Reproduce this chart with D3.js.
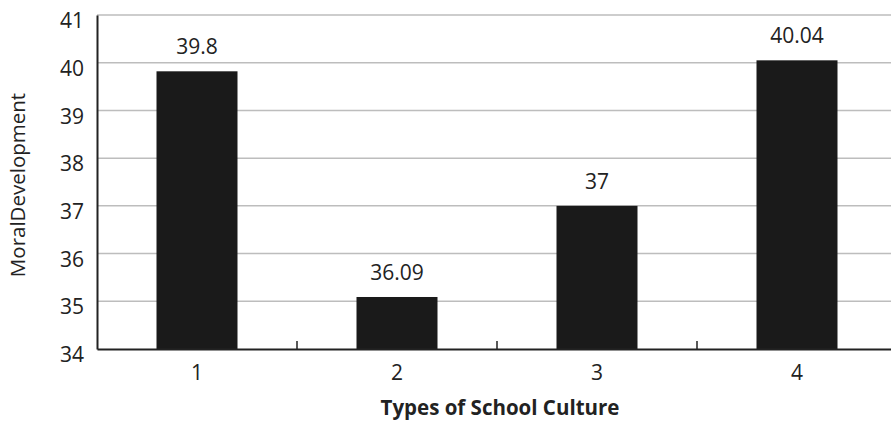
<!DOCTYPE html>
<html><head><meta charset="utf-8">
<script src="https://cdn.jsdelivr.net/npm/d3@7"></script>
<style>body{margin:0;background:#fff}svg{display:block}</style>
</head><body>
<svg id="c" width="891" height="421"></svg>
<script>
const categories = ["1", "2", "3", "4"];
const barValues = [39.82, 35.09, 37.0, 40.05];
const valueLabels = ["39.8", "36.09", "37", "40.04"];
const yTicks = [34, 35, 36, 37, 38, 39, 40, 41];
const yTitle = "MoralDevelopment";
const xTitle = "Types of School Culture";

const svg = d3.select("#c");
const font = "'Open Sans', 'Liberation Sans', sans-serif";
const plotLeft = 97, plotRight = 897, plotTop = 15, plotBottom = 349;

const x = d3.scaleBand().domain(categories).range([plotLeft, plotRight]).padding(0);
const y = d3.scaleLinear().domain([34, 41]).range([plotBottom, plotTop]);

// gridlines
svg.append("g").selectAll("line").data(yTicks.slice(1)).join("line")
  .attr("x1", plotLeft).attr("x2", 891)
  .attr("y1", d => y(d)).attr("y2", d => y(d))
  .attr("stroke", "#bdbdbd").attr("stroke-width", 1.5);

// bars
const bw = x.bandwidth() * 0.405;
svg.append("g").selectAll("rect").data(categories).join("rect")
  .attr("x", (d) => x(d) + x.bandwidth() / 2 - bw / 2)
  .attr("width", bw)
  .attr("y", (d, i) => y(barValues[i]))
  .attr("height", (d, i) => y(34) - y(barValues[i]))
  .attr("fill", "#1a1a1a");

// value labels
svg.append("g").selectAll("text").data(categories).join("text")
  .attr("x", d => x(d) + x.bandwidth() / 2)
  .attr("y", (d, i) => y(barValues[i]) - 17)
  .attr("text-anchor", "middle")
  .attr("font-family", font).attr("font-size", 21).attr("fill", "#222")
  .text((d, i) => valueLabels[i]);

// y axis
const yAxis = d3.axisLeft(y).tickValues(yTicks).tickSize(0).tickPadding(13).tickFormat(d3.format("d"));
const gy = svg.append("g").attr("transform", `translate(${plotLeft},0)`).call(yAxis);
gy.select(".domain").attr("stroke", "#222").attr("stroke-width", 2);
gy.selectAll("text").attr("font-family", font).attr("font-size", 21).attr("fill", "#222")
  .attr("dy", "0.6em");

// x axis
const xAxis = d3.axisBottom(x).tickSize(0).tickPadding(16);
const gx = svg.append("g").attr("transform", `translate(0,${plotBottom})`).call(xAxis);
gx.select(".domain").attr("stroke", "#222").attr("stroke-width", 2);
gx.selectAll("text").attr("font-family", font).attr("font-size", 21).attr("fill", "#222");
// boundary ticks
gx.append("g").selectAll("line").data(categories.slice(1)).join("line")
  .attr("x1", d => x(d)).attr("x2", d => x(d))
  .attr("y1", 0).attr("y2", -8)
  .attr("stroke", "#222").attr("stroke-width", 1.5);

// titles
svg.append("text")
  .attr("transform", `translate(25,185) rotate(-90)`)
  .attr("text-anchor", "middle")
  .attr("font-family", font).attr("font-size", 20.5).attr("fill", "#222")
  .text(yTitle);
svg.append("text")
  .attr("x", 500).attr("y", 415)
  .attr("text-anchor", "middle")
  .attr("font-family", font).attr("font-size", 20.5).attr("font-weight", "bold").attr("fill", "#222")
  .text(xTitle);
</script>
</body></html>
